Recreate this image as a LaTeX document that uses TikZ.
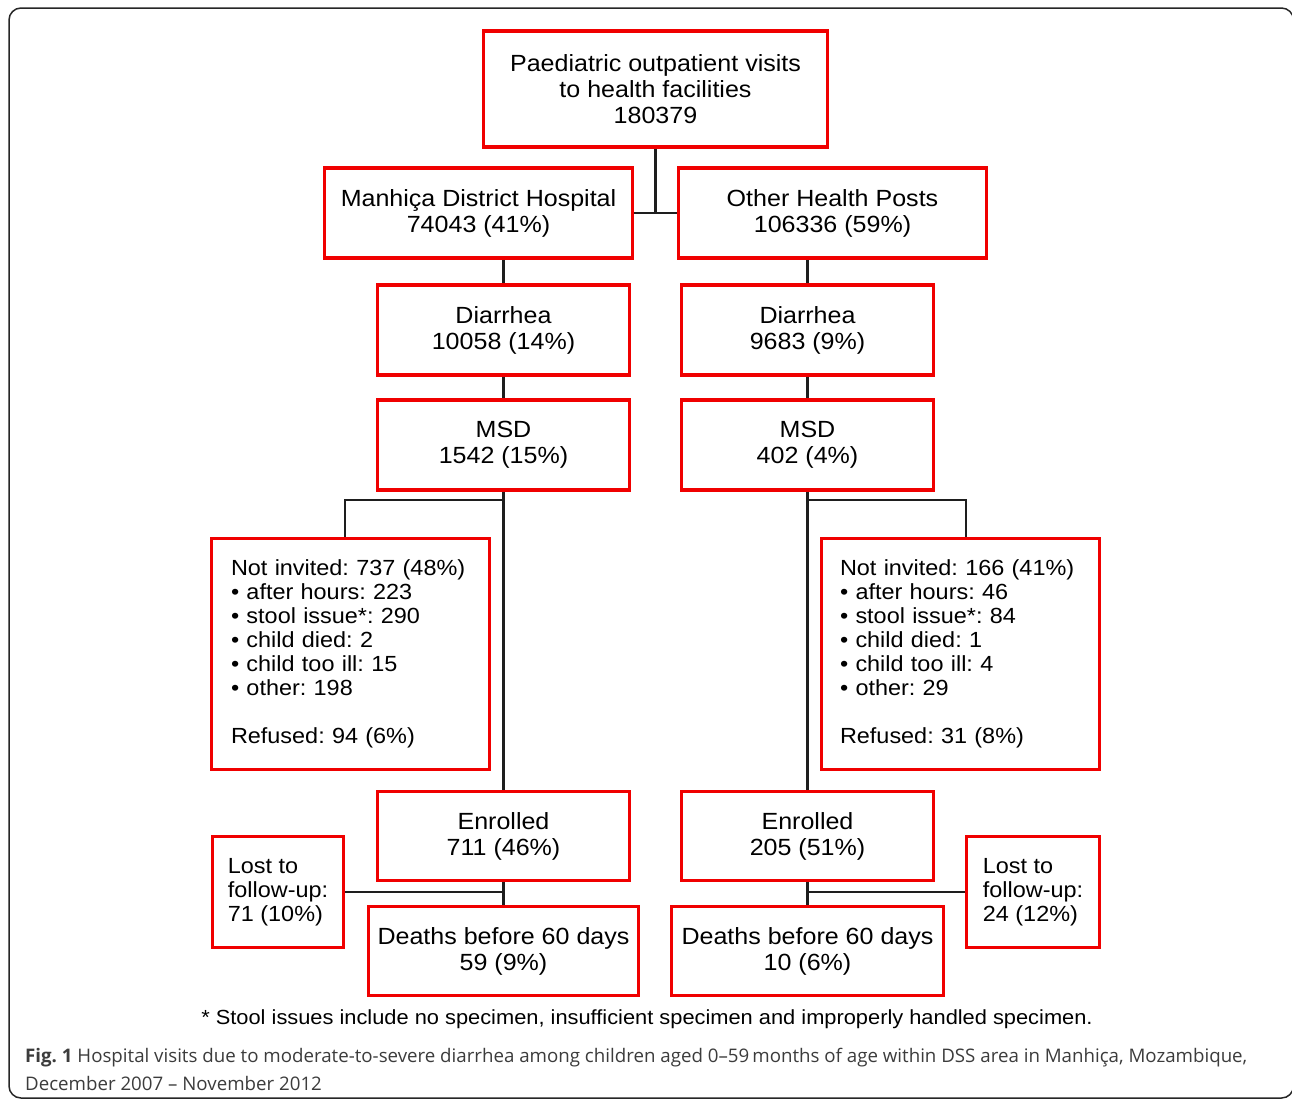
\documentclass[tikz,border=0pt]{standalone}
\usepackage{fontspec}
\setmainfont{Liberation Sans}
\newfontfamily\boxfont[FakeStretch=1.07]{Liberation Sans}
\newfontfamily\capfont{Open Sans}
\definecolor{boxred}{RGB}{240,0,0}
\definecolor{capgray}{RGB}{60,60,60}
\definecolor{linegray}{RGB}{30,30,30}
\frenchspacing
\tikzset{
  box/.style={draw=boxred, line width=3.5pt, inner sep=0pt, align=center,
    font=\boxfont\fontsize{23.4}{26}\selectfont},
  listbox/.style={box, align=left, font=\boxfont\fontsize{21.9}{24}\selectfont},
  conn/.style={draw=linegray, line width=2.2pt},
}
\begin{document}
\begin{tikzpicture}[x=1pt, y=-1pt]
\useasboundingbox (0,0) rectangle (1292,1101);
\fill[white] (0,0) rectangle (1292,1101);
\begin{scope}
\clip (0,0) rectangle (1292,1101);
\draw[line width=1.5pt, draw=black!85, rounded corners=12pt] (9,8) rectangle (1293.5,1098);
\end{scope}

% boxes
\node[box, minimum width=344, minimum height=116] (top) at (655.5,89) {Paediatric outpatient visits\\to health facilities\\180379};
\node[box, minimum width=308, minimum height=90] (mdh) at (478.5,213) {Manhiça District Hospital\\74043 (41\%)};
\node[box, minimum width=308, minimum height=90] (ohp) at (832.5,213) {Other Health Posts\\106336 (59\%)};
\node[box, minimum width=252, minimum height=90] (diaL) at (503.5,330) {Diarrhea\\10058 (14\%)};
\node[box, minimum width=252, minimum height=90] (diaR) at (807.5,330) {Diarrhea\\9683 (9\%)};
\node[box, minimum width=252, minimum height=90] (msdL) at (503.5,445) {MSD\\1542 (15\%)};
\node[box, minimum width=252, minimum height=90] (msdR) at (807.5,445) {MSD\\402 (4\%)};
\node[listbox, minimum width=278, minimum height=231, text width=239] (niL) at (350.5,654)
  {Not invited: 737 (48\%)\\• after hours: 223\\• stool issue*: 290\\• child died: 2\\• child too ill: 15\\• other: 198\\[24pt]Refused: 94 (6\%)};
\node[listbox, minimum width=278, minimum height=231, text width=241] (niR) at (960.5,654)
  {Not invited: 166 (41\%)\\• after hours: 46\\• stool issue*: 84\\• child died: 1\\• child too ill: 4\\• other: 29\\[24pt]Refused: 31 (8\%)};
\node[box, minimum width=252, minimum height=89] (enL) at (503.5,836) {Enrolled\\711 (46\%)};
\node[box, minimum width=252, minimum height=89] (enR) at (807.5,836) {Enrolled\\205 (51\%)};
\node[box, minimum width=270, minimum height=89] (deL) at (503.5,951) {Deaths before 60 days\\59 (9\%)};
\node[box, minimum width=272, minimum height=89] (deR) at (807.5,951) {Deaths before 60 days\\10 (6\%)};
\node[listbox, minimum width=131, minimum height=111] (loL) at (278,892) {Lost to\\follow-up:\\71 (10\%)};
\node[listbox, minimum width=133, minimum height=111] (loR) at (1033,892) {Lost to\\follow-up:\\24 (12\%)};

% connectors
\draw[conn] (top.south) -- (top.south |- mdh.east);
\draw[conn] (mdh.east) -- (ohp.west);
\draw[conn] (diaL.north |- mdh.south) -- (diaL.north);
\draw[conn] (diaR.north |- ohp.south) -- (diaR.north);
\draw[conn] (diaL.south) -- (msdL.north);
\draw[conn] (diaR.south) -- (msdR.north);
\draw[conn] (msdL.south) -- (enL.north);
\draw[conn] (msdR.south) -- (enR.north);
\coordinate (jL) at (345,500);
\coordinate (jR) at (966,500);
\draw[conn] (msdL.south |- jL) -- (jL) -- (jL |- niL.north);
\draw[conn] (msdR.south |- jR) -- (jR) -- (jR |- niR.north);
\draw[conn] (enL.south) -- (deL.north);
\draw[conn] (enR.south) -- (deR.north);
\draw[conn] (loL.east) -- (loL.east -| enL.south);
\draw[conn] (loR.west) -- (loR.west -| enR.south);

% footnote and caption
\node[font=\boxfont\fontsize{20.4}{24}\selectfont, inner sep=0pt] (fn) at (647,1019)
  {* Stool issues include no specimen, insufficient specimen and improperly handled specimen.};
\node[anchor=base west, inner sep=0pt, text=capgray, font=\capfont\fontsize{18.7}{28}\selectfont] (cap1) at (25,1062)
  {\textbf{Fig. 1} Hospital visits due to moderate-to-severe diarrhea among children aged 0–59\,months of age within DSS area in Manhiça, Mozambique,};
\node[anchor=base west, inner sep=0pt, text=capgray, font=\capfont\fontsize{18.7}{28}\selectfont] (cap2) at (25,1090)
  {December 2007 – November 2012};
\end{tikzpicture}
\end{document}
